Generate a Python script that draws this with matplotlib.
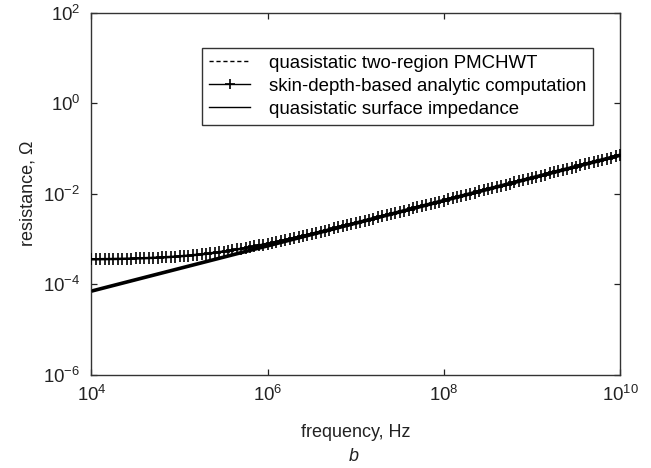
import numpy as np
import matplotlib
matplotlib.use("Agg")
import matplotlib.pyplot as plt
from matplotlib.ticker import FixedLocator, LogFormatterSciNotation, NullLocator

plt.rcParams['font.family'] = ['Liberation Sans', 'DejaVu Sans']
plt.rcParams['mathtext.fontset'] = 'custom'
plt.rcParams['mathtext.rm'] = 'Liberation Sans'
plt.rcParams['mathtext.it'] = 'Liberation Sans:italic'

# fine frequency sampling (0.05 decade) for the marked curve
freq_fine_hz = np.logspace(4, 10, 121)
# coarse frequency sampling (0.5 decade) for the straight power-law curves
freq_coarse_hz = np.logspace(4, 10, 13)

# skin-depth-based analytic computation, in units of 1e-5 ohm
r_analytic_1e5 = [
    35.71, 35.79, 35.89, 36.00, 36.12, 36.25, 36.40, 36.57, 36.75, 36.96,
    37.20, 37.45, 37.74, 38.06, 38.42, 38.82, 39.26, 39.75, 40.29, 40.89,
    41.55, 42.28, 43.08, 43.97, 44.94, 46.00, 47.17, 48.45, 49.84, 51.36,
    53.01, 54.80, 56.75, 58.86, 61.13, 63.59, 66.24, 69.09, 72.16, 75.45,
    78.98, 82.76, 86.81, 91.14, 95.76, 100.69, 105.96, 111.56, 117.54, 123.91,
    130.68, 137.88, 145.54, 153.68, 162.32, 171.51, 181.25, 191.60, 202.59, 214.25,
    226.61, 239.73, 253.64, 268.38, 284.02, 300.60, 318.18, 336.81, 356.56, 377.49,
    399.67, 423.18, 448.09, 474.48, 502.45, 532.07, 563.47, 596.74, 631.97, 669.31,
    708.0, 750.0, 794.4, 841.5, 891.3, 944.1, 1000.1, 1059.3, 1122.1, 1188.6,
    1259.0, 1333.6, 1412.7, 1496.4, 1585.0, 1679.0, 1778.4, 1883.8, 1995.4, 2113.7,
    2238.9, 2371.6, 2512.1, 2660.9, 2818.6, 2985.6, 3162.5, 3349.9, 3548.4, 3758.6,
    3981.4, 4217.3, 4467.2, 4731.9, 5012.3, 5309.2, 5623.8, 5957.1, 6310.0, 6683.9,
    7080.0,
]
r_analytic = np.array(r_analytic_1e5) * 1e-5

# quasistatic two-region PMCHWT (ohm)
r_pmchwt = [7.08e-5, 1.26e-4, 2.24e-4, 3.98e-4, 7.08e-4, 1.26e-3, 2.24e-3,
            3.98e-3, 7.08e-3, 1.26e-2, 2.24e-2, 3.98e-2, 7.08e-2]
# quasistatic surface impedance (ohm)
r_surface = [7.08e-5, 1.26e-4, 2.24e-4, 3.98e-4, 7.08e-4, 1.26e-3, 2.24e-3,
             3.98e-3, 7.08e-3, 1.26e-2, 2.24e-2, 3.98e-2, 7.08e-2]

labels = ["quasistatic two-region PMCHWT",
          "skin-depth-based analytic computation",
          "quasistatic surface impedance"]
x_ticks = [1e4, 1e6, 1e8, 1e10]
y_ticks = [1e-6, 1e-4, 1e-2, 1e0, 1e2]

fig = plt.figure(figsize=(6.51, 4.68), dpi=100)
ax = fig.add_axes([0.1405, 0.199, 0.812, 0.774])

ax.plot(freq_coarse_hz, r_surface, color='black', lw=2.6, ls='-', label=labels[2], zorder=2)
ax.plot(freq_coarse_hz, r_pmchwt, color='black', lw=1.0, ls=(0, (3, 2)), label=labels[0], zorder=3)
ax.plot(freq_fine_hz, r_analytic, color='black', lw=1.8, marker='+', ms=8.5, mew=1.2,
        label=labels[1], zorder=4)

ax.set_xscale('log')
ax.set_yscale('log')
ax.set_xlim(1e4, 1e10)
ax.set_ylim(1e-6, 1e2)
ax.xaxis.set_major_locator(FixedLocator(x_ticks))
ax.yaxis.set_major_locator(FixedLocator(y_ticks))
ax.xaxis.set_minor_locator(NullLocator())
ax.yaxis.set_minor_locator(NullLocator())
ax.xaxis.set_major_formatter(LogFormatterSciNotation())
ax.yaxis.set_major_formatter(LogFormatterSciNotation())
ax.tick_params(which='both', direction='in', top=True, right=True, length=4.5,
               width=0.9, labelsize=13.4, colors='#222222')
ax.tick_params(axis='y', pad=8)
ax.tick_params(axis='x', pad=7)
for s in ax.spines.values():
    s.set_color('#333333')
    s.set_linewidth(1.0)

ax.set_xlabel('frequency, Hz', fontsize=13, color='#222222', labelpad=14)
ax.set_ylabel('resistance, Ω', fontsize=13, color='#222222', labelpad=5)

handles, lbls = ax.get_legend_handles_labels()
order = [lbls.index(l) for l in labels]
leg = ax.legend([handles[i] for i in order], [lbls[i] for i in order],
                loc='upper right', bbox_to_anchor=(0.949, 0.903), fontsize=13.4,
                frameon=True, fancybox=False, edgecolor='#333333', framealpha=1,
                handlelength=2.2, handletextpad=1.0, labelspacing=0.32,
                borderpad=0.38, borderaxespad=0)
leg.get_frame().set_linewidth(1.0)
for h in leg.legend_handles:
    h.set_linewidth(1.0)
    h.set_markersize(7)

fig.text(0.543, 0.006, 'b', fontsize=13, style='italic', ha='center', va='bottom',
         color='#222222')

fig.savefig('out.png', dpi=100)
